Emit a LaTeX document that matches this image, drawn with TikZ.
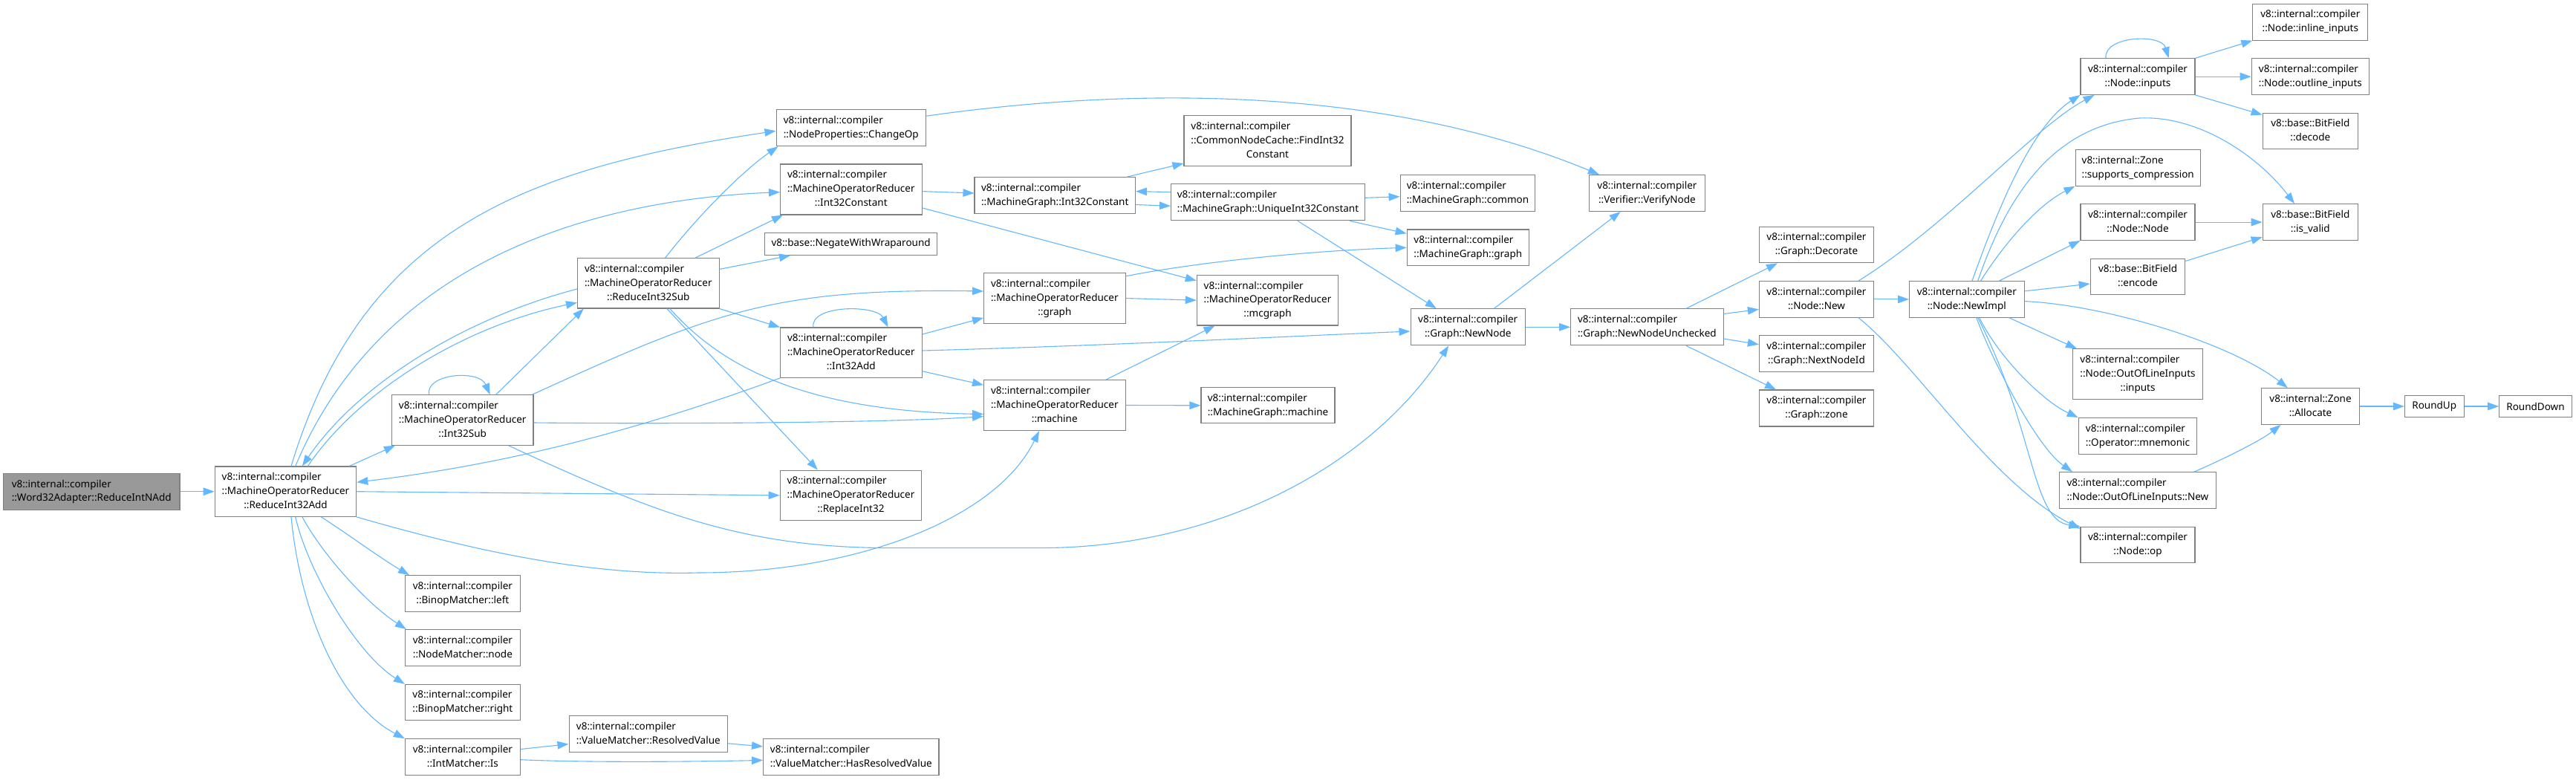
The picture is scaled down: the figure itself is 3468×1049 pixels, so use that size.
\documentclass[tikz,border=0pt]{standalone}
\usepackage{fontspec}
\setmainfont{Noto Sans}
\usetikzlibrary{arrows.meta}
\definecolor{edgeblue}{HTML}{63B8FF}
\definecolor{nodeborder}{HTML}{808080}
\definecolor{rootfill}{HTML}{999999}
\newcommand{\nodefont}{\fontsize{13.5}{18.9}\selectfont}
\newcommand{\Lii}[2]{\begin{tabular}{@{}l@{}}#1\\\multicolumn{1}{@{}c@{}}{#2}\end{tabular}}
\newcommand{\Liii}[3]{\begin{tabular}{@{}l@{}}#1\\#2\\\multicolumn{1}{@{}c@{}}{#3}\end{tabular}}
\begin{document}
\begin{tikzpicture}[x=1pt,y=-1pt,
  box/.style={draw=nodeborder, fill=white, line width=1.1pt, inner sep=0pt, font=\nodefont, anchor=center},
  edge/.style={draw=edgeblue, line width=1.1pt, -{Triangle[length=15pt,width=10.5pt]}}]
\fill[white] (0,0) rectangle (3468,1049);
\useasboundingbox (0,0) rectangle (3468,1049);

% nodes
\node[box, fill=rootfill, minimum width=237.5pt, minimum height=49.2pt] (word) at (123.2,661.7) {\Lii{v8::internal::compiler}{::Word32Adapter::ReduceIntNAdd}};
\node[box, minimum width=190.5pt, minimum height=67.4pt] (radd) at (384.5,661.7) {\Liii{v8::internal::compiler}{::MachineOperatorReducer}{::ReduceInt32Add}};
\node[box, minimum width=190.5pt, minimum height=67.5pt] (isub) at (622.7,565.5) {\Liii{v8::internal::compiler}{::MachineOperatorReducer}{::Int32Sub}};
\node[box, minimum width=155pt, minimum height=48.5pt] (bleft) at (622.9,798.9) {\Lii{v8::internal::compiler}{::BinopMatcher::left}};
\node[box, minimum width=155pt, minimum height=48.5pt] (nnode) at (622.9,871.8) {\Lii{v8::internal::compiler}{::NodeMatcher::node}};
\node[box, minimum width=155pt, minimum height=48.5pt] (bright) at (622.9,945.6) {\Lii{v8::internal::compiler}{::BinopMatcher::right}};
\node[box, minimum width=155pt, minimum height=48.5pt] (imis) at (622.9,1018.9) {\Lii{v8::internal::compiler}{::IntMatcher::Is}};
\node[box, minimum width=213.5pt, minimum height=49pt] (resval) at (872.8,988.1) {\Lii{v8::internal::compiler}{::ValueMatcher::ResolvedValue}};
\node[box, minimum width=236.4pt, minimum height=48.5pt] (hasres) at (1145.8,1018.9) {\Lii{v8::internal::compiler}{::ValueMatcher::HasResolvedValue}};
\node[box, minimum width=201.5pt, minimum height=49pt] (changeop) at (1145.8,172.2) {\Lii{v8::internal::compiler}{::NodeProperties::ChangeOp}};
\node[box, minimum width=190.5pt, minimum height=68pt] (mconst) at (1145.8,255) {\Liii{v8::internal::compiler}{::MachineOperatorReducer}{::Int32Constant}};
\node[box, minimum width=231.5pt, minimum height=30pt] (negate) at (1145.6,328.4) {v8::base::NegateWithWraparound};
\node[box, minimum width=190.5pt, minimum height=67.2pt] (rsub) at (872.8,381.4) {\Liii{v8::internal::compiler}{::MachineOperatorReducer}{::ReduceInt32Sub}};
\node[box, minimum width=190.5pt, minimum height=67.4pt] (iadd) at (1145.8,474.7) {\Liii{v8::internal::compiler}{::MachineOperatorReducer}{::Int32Add}};
\node[box, minimum width=190.5pt, minimum height=67.5pt] (replace) at (1145.5,666.8) {\Liii{v8::internal::compiler}{::MachineOperatorReducer}{::ReplaceInt32}};
\node[box, minimum width=216.4pt, minimum height=48.7pt] (mgconst) at (1420.2,263) {\Lii{v8::internal::compiler}{::MachineGraph::Int32Constant}};
\node[box, minimum width=225pt, minimum height=67.6pt] (find) at (1706.5,189.6) {\Liii{v8::internal::compiler}{::CommonNodeCache::FindInt32}{Constant}};
\node[box, minimum width=261pt, minimum height=49pt] (unique) at (1707,272.3) {\Lii{v8::internal::compiler}{::MachineGraph::UniqueInt32Constant}};
\node[box, minimum width=190.5pt, minimum height=67.6pt] (mgraph) at (1419.8,401.5) {\Liii{v8::internal::compiler}{::MachineOperatorReducer}{::graph}};
\node[box, minimum width=190.4pt, minimum height=67.6pt] (mcgraph) at (1706.5,404.2) {\Liii{v8::internal::compiler}{::MachineOperatorReducer}{::mcgraph}};
\node[box, minimum width=190.5pt, minimum height=68.3pt] (machine) at (1419.8,545.5) {\Liii{v8::internal::compiler}{::MachineOperatorReducer}{::machine}};
\node[box, minimum width=180pt, minimum height=48.2pt] (mgmachine) at (1707,545.8) {\Lii{v8::internal::compiler}{::MachineGraph::machine}};
\node[box, minimum width=181.7pt, minimum height=49pt] (common) at (1976,260) {\Lii{v8::internal::compiler}{::MachineGraph::common}};
\node[box, minimum width=164.3pt, minimum height=48.6pt] (ggraph) at (1976.3,333.3) {\Lii{v8::internal::compiler}{::MachineGraph::graph}};
\node[box, minimum width=155.8pt, minimum height=49pt] (verify) at (2217.4,260) {\Lii{v8::internal::compiler}{::Verifier::VerifyNode}};
\node[box, minimum width=154.3pt, minimum height=49pt] (newnode) at (1976.2,440.3) {\Lii{v8::internal::compiler}{::Graph::NewNode}};
\node[box, minimum width=205.5pt, minimum height=49pt] (unchecked) at (2217.4,440.3) {\Lii{v8::internal::compiler}{::Graph::NewNodeUnchecked}};
\node[box, minimum width=154.2pt, minimum height=48.7pt] (decorate) at (2445.5,329.5) {\Lii{v8::internal::compiler}{::Graph::Decorate}};
\node[box, minimum width=154.2pt, minimum height=48.6pt] (nnew) at (2445.5,402.9) {\Lii{v8::internal::compiler}{::Node::New}};
\node[box, minimum width=154.2pt, minimum height=48.6pt] (nextid) at (2445.5,475.9) {\Lii{v8::internal::compiler}{::Graph::NextNodeId}};
\node[box, minimum width=154.2pt, minimum height=49pt] (gzone) at (2445.5,549.5) {\Lii{v8::internal::compiler}{::Graph::zone}};
\node[box, minimum width=154.5pt, minimum height=48.6pt] (newimpl) at (2647.8,402.9) {\Lii{v8::internal::compiler}{::Node::NewImpl}};
\node[box, minimum width=154pt, minimum height=48.6pt] (inputs) at (2878,103.1) {\Lii{v8::internal::compiler}{::Node::inputs}};
\node[box, minimum width=168.3pt, minimum height=48.7pt] (supports) at (2878.2,225.8) {\Lii{v8::internal::Zone}{::supports\_compression}};
\node[box, minimum width=154pt, minimum height=48.7pt] (nodenode) at (2878,299.1) {\Lii{v8::internal::compiler}{::Node::Node}};
\node[box, minimum width=127.5pt, minimum height=48.4pt] (encode) at (2878,372.3) {\Lii{v8::base::BitField}{::encode}};
\node[box, minimum width=175pt, minimum height=68pt] (oolinputs) at (2878,503.9) {\Liii{v8::internal::compiler}{::Node::OutOfLineInputs}{::inputs}};
\node[box, minimum width=159.5pt, minimum height=48.5pt] (mnemonic) at (2878,586.8) {\Lii{v8::internal::compiler}{::Operator::mnemonic}};
\node[box, minimum width=210.8pt, minimum height=48.9pt] (oolnew) at (2877.9,660.2) {\Lii{v8::internal::compiler}{::Node::OutOfLineInputs::New}};
\node[box, minimum width=154pt, minimum height=48.6pt] (op) at (2878,733.6) {\Lii{v8::internal::compiler}{::Node::op}};
\node[box, minimum width=154.8pt, minimum height=49pt] (inline) at (3110.3,29.6) {\Lii{v8::internal::compiler}{::Node::inline\_inputs}};
\node[box, minimum width=158.3pt, minimum height=48.6pt] (outline) at (3110.4,103.1) {\Lii{v8::internal::compiler}{::Node::outline\_inputs}};
\node[box, minimum width=128.2pt, minimum height=48.7pt] (decode) at (3110.3,176.4) {\Lii{v8::base::BitField}{::decode}};
\node[box, minimum width=128.2pt, minimum height=48.7pt] (isvalid) at (3110.3,299.1) {\Lii{v8::base::BitField}{::is\_valid}};
\node[box, minimum width=132.3pt, minimum height=48.7pt] (allocate) at (3110.5,547) {\Lii{v8::internal::Zone}{::Allocate}};
\node[box, minimum width=79.7pt, minimum height=29.7pt] (roundup) at (3277.2,547) {RoundUp};
\node[box, minimum width=97.6pt, minimum height=29.7pt] (rounddown) at (3413.5,547) {RoundDown};

% edges
\draw[edge] (word.east) -- (radd.west);
\draw[edge] ([xshift=7.5pt]radd.north) .. controls (488,311) and (700,228) .. ([yshift=-4pt]changeop.west);
\draw[edge] ([xshift=13.2pt]radd.north) .. controls (510,360) and (780,270) .. ([yshift=-3.6pt]mconst.west);
\draw[edge] ([yshift=-7.6pt]rsub.west) .. controls (620,430) and (480,520) .. ([xshift=22.4pt]radd.north);
\draw[edge] ([xshift=29.9pt]radd.north) .. controls (480,530) and (620,440) .. ([yshift=-26pt]rsub.west);
\draw[edge] ([xshift=-10pt]radd.north east) -- ([xshift=5pt]isub.south west);
\draw[edge] (radd.east) -- (replace.west);
\draw[edge] (radd.south east) .. controls (650,745) and (800,775) .. (940,771) .. controls (1150,771) and (1340,700) .. ([xshift=-20.8pt]machine.south);
\draw[edge] ([xshift=48pt]radd.south) .. controls (470,720) and (510,750) .. ([xshift=-71.9pt]bleft.north);
\draw[edge] ([xshift=22.5pt]radd.south) .. controls (430,740) and (490,810) .. ([xshift=2pt]nnode.north west);
\draw[edge] ([xshift=13.2pt]radd.south) .. controls (415,770) and (480,880) .. (bright.north west);
\draw[edge] ([xshift=7.5pt]radd.south) .. controls (405,830) and (460,950) .. (imis.north west);

\draw[edge] ([xshift=-45pt]isub.north) .. controls (572,503) and (645,497) .. ([xshift=37pt]isub.north);
\draw[edge] ([xshift=45pt]isub.north) -- ([xshift=-87pt]rsub.south);
\draw[edge] ([xshift=-2pt]isub.north east) .. controls (960,420) and (1040,388) .. ([yshift=9.5pt]mgraph.west);
\draw[edge] ([yshift=-3.5pt]isub.east) .. controls (900,571) and (1200,569) .. ([yshift=-15pt]machine.west);
\draw[edge] ([xshift=62pt]isub.south) .. controls (880,690) and (1000,737.6) .. (1200,737.6) -- (1400,737.6) .. controls (1650,737.6) and (1850,620) .. ([xshift=-26pt]newnode.south);

\draw[edge] ([xshift=22.7pt]rsub.north) .. controls (940,290) and (1000,230) .. ([xshift=3pt]changeop.south west);
\draw[edge] ([xshift=63pt]rsub.north) -- ([xshift=4pt]mconst.south west);
\draw[edge] ([yshift=19pt]rsub.east) -- ([xshift=-81.6pt]negate.south);
\draw[edge] (rsub.south east) -- (iadd.north west);
\draw[edge] ([xshift=25pt]rsub.south) -- ([xshift=-44.7pt]replace.north);
\draw[edge] ([xshift=29pt]rsub.south) .. controls (960,480) and (1060,553) .. ([yshift=-12pt]machine.west);

\draw[edge] ([xshift=-50.8pt]iadd.north) .. controls (1090,410) and (1180,410) .. ([xshift=49.7pt]iadd.north);
\draw[edge] (iadd.south west) .. controls (851,581.7) and (681,625) .. ([yshift=12.5pt]radd.east);
\draw[edge] ([yshift=24.7pt]iadd.east) -- ([yshift=8pt]mgraph.south west);
\draw[edge] ([yshift=2.7pt]iadd.east) .. controls (1500,465) and (1750,452) .. ([yshift=-5.7pt]newnode.west);
\draw[edge] ([yshift=-25pt]iadd.east) -- ([yshift=-7.4pt]machine.north west);

\draw[edge] ([yshift=-2.6pt]mconst.east) -- ([yshift=3pt]mgconst.west);
\draw[edge] ([yshift=-24.9pt]mconst.east) -- ([yshift=-8pt]mcgraph.north west);
\draw[edge] (mgraph.east) -- (mcgraph.west);
\draw[edge] ([yshift=29.7pt]mgraph.east) .. controls (1600,355) and (1750,338) .. (ggraph.west);
\draw[edge] ([xshift=69.7pt]machine.north) -- ([xshift=-71pt]mcgraph.south);
\draw[edge] (machine.east) -- (mgmachine.west);

\draw[edge] ([xshift=97pt]mgconst.north) -- ([yshift=4pt]find.south west);
\draw[edge] ([yshift=-12.5pt]mgconst.east) -- ([yshift=-5pt]unique.west);
\draw[edge] ([yshift=13.7pt]unique.west) -- ([yshift=5.4pt]mgconst.east);
\draw[edge] ([yshift=6pt]unique.east) -- ([yshift=-4.7pt]common.west);
\draw[edge] ([xshift=110pt]unique.south) -- ([yshift=19pt]ggraph.west);
\draw[edge] ([xshift=40pt]unique.south) -- ([xshift=-42.4pt]newnode.north);

\draw[edge] ([yshift=16pt]changeop.east) .. controls (1500,120) and (1850,110) .. ([xshift=14pt]verify.north west);
\draw[edge] ([xshift=35.3pt]newnode.north) -- ([xshift=-35.8pt]verify.south);
\draw[edge] (newnode.east) -- (unchecked.west);
\draw[edge] ([xshift=52.6pt]unchecked.north) -- ([xshift=-52.5pt]decorate.south);
\draw[edge] ([yshift=17.8pt]unchecked.east) -- ([yshift=-13.5pt]nnew.west);
\draw[edge] ([yshift=-15.7pt]unchecked.east) -- ([yshift=12.2pt]nextid.west);
\draw[edge] ([xshift=52.6pt]unchecked.south) -- ([xshift=-54.5pt]gzone.north);

\draw[edge] (nnew.east) -- (newimpl.west);
\draw[edge] ([xshift=56.5pt]nnew.north) .. controls (2620,305) and (2740,170) .. ([xshift=-58.4pt]inputs.south);
\draw[edge] ([xshift=56.5pt]nnew.south) .. controls (2580,490) and (2680,650) .. ([yshift=-3pt]op.north west);
\draw[edge] ([xshift=7.2pt]newimpl.north) .. controls (2690,280) and (2735,170) .. (inputs.south west);
\draw[edge] ([xshift=14.9pt]newimpl.north) .. controls (2700,270) and (2760,170) .. (2880,159) .. controls (2960,155) and (3040,210) .. ([xshift=-21.3pt]isvalid.north);
\draw[edge] ([xshift=18.7pt]newimpl.north) .. controls (2700,325) and (2745,275) .. (supports.south west);
\draw[edge] ([xshift=43.6pt]newimpl.north) -- (nodenode.south west);
\draw[edge] ([yshift=11pt]newimpl.east) -- ([yshift=-9.7pt]encode.west);
\draw[edge] ([yshift=-2.7pt]newimpl.east) .. controls (2830,410) and (3000,460) .. ([xshift=-30.7pt]allocate.north);
\draw[edge] ([xshift=57pt]newimpl.south) -- ([xshift=6pt]oolinputs.north west);
\draw[edge] ([xshift=17pt]newimpl.south) .. controls (2690,480) and (2750,540) .. (mnemonic.north west);
\draw[edge] ([xshift=13pt]newimpl.south) .. controls (2680,480) and (2740,600) .. ([xshift=-88pt]oolnew.north);
\draw[edge] ([xshift=15pt]newimpl.south) .. controls (2740,580) and (2735,700) .. (op.north west);

\draw[edge] ([xshift=-43pt]inputs.north) .. controls (2832,48) and (2910,45) .. ([xshift=41.6pt]inputs.north);
\draw[edge] (inputs.north east) -- (inline.south west);
\draw[edge] (inputs.east) -- (outline.west);
\draw[edge] (inputs.south east) -- ([yshift=-3pt]decode.north west);
\draw[edge] (nodenode.east) -- (isvalid.west);
\draw[edge] ([yshift=20.8pt]encode.east) -- ([yshift=-20pt]isvalid.west);
\draw[edge] ([xshift=76pt]oolnew.north) .. controls (3000,615) and (3045,592) .. ([xshift=-40pt]allocate.south);
\draw[edge] (allocate.east) -- (roundup.west);
\draw[edge] (roundup.east) -- (rounddown.west);

\draw[edge] ([yshift=10.4pt]imis.east) -- ([yshift=-13.5pt]resval.west);
\draw[edge] ([yshift=-3.8pt]imis.east) .. controls (800,1027) and (950,1025) .. ([yshift=-4.5pt]hasres.west);
\draw[edge] ([yshift=-12.7pt]resval.east) -- ([yshift=14pt]hasres.west);
\end{tikzpicture}
\end{document}
